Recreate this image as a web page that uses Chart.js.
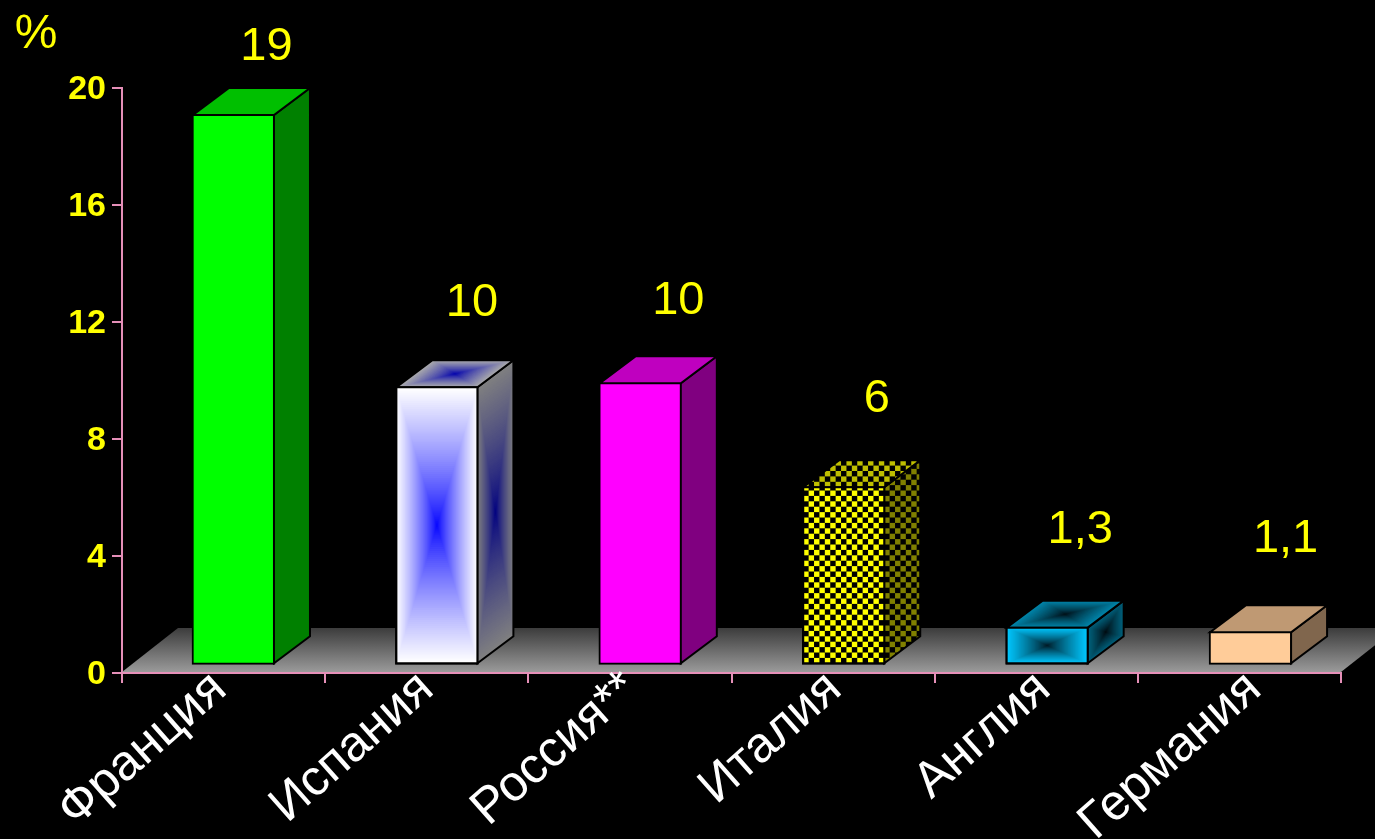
<!DOCTYPE html>
<html><head><meta charset="utf-8">
<style>html,body{margin:0;padding:0;background:#000;overflow:hidden}canvas{display:block}</style>
<script src="https://cdn.jsdelivr.net/npm/chart.js@4"></script>
</head><body><canvas id="c" width="1375" height="839"></canvas>
<script>
const categories = ["Франция","Испания","Россия**","Италия","Англия","Германия"];
const barHeights = [19, 9.6, 9.74, 6.15, 1.3, 1.14];
const valueLabels = ["19","10","10","6","1,3","1,1"];
const yMin = 0, yMax = 20, yStep = 4;

const FONT = '"Liberation Sans", Arial, sans-serif';
const PINK = '#e58fb8', YELLOW = '#ffff00';
const DX = 36, DY = 27;
// visual styling, per bar
const faceStyles = [
  {kind:'solid', color:[0,255,0]},
  {kind:'rect', outer:[255,255,255], inner:[0,0,255]},
  {kind:'solid', color:[255,0,255]},
  {kind:'check', color:[255,255,0]},
  {kind:'rect', outer:[0,200,255], inner:[0,20,30]},
  {kind:'solid', color:[255,204,153]}
];
const labelNudge = [[33,-67],[35,-83],[38,-81],[33,-87],[33,-97],[35,-92]];
const catNudge = [-4,0,1.5,1.5,7.5,15];

const css = (c,s=1)=>`rgb(${c.map(v=>Math.round(v*s)).join(',')})`;
function paintRect(ctx, st, W, H, shade){
  if(st.kind==='solid'){ ctx.fillStyle=css(st.color,shade); ctx.fillRect(0,0,W,H); return; }
  const N=70;
  for(let k=N;k>=1;k--){
    const t=k/N, m=Math.pow(t,0.8);
    const c=st.inner.map((v,i)=>(v+(st.outer[i]-v)*m)*shade);
    ctx.fillStyle=css(c);
    const w=W*t,h=H*t;
    ctx.fillRect((W-w)/2,(H-h)/2,w,h);
  }
}
function paintCheck(ctx, st, x0, y0, x1, y1, shade){
  ctx.fillStyle='#000'; ctx.fillRect(x0,y0,x1-x0,y1-y0);
  ctx.fillStyle=css(st.color,shade);
  const s=5.4;
  for(let i=0;x0+i*s<x1;i++)for(let j=0;y1-j*s>y0-s;j++){ if((i+j)%2===0) ctx.fillRect(x0+i*s,y1-j*s-s,s,s); }
}
function face(ctx, st, o, u, v, W, H, shade){
  ctx.save();
  ctx.beginPath();
  ctx.moveTo(o[0],o[1]);ctx.lineTo(o[0]+u[0],o[1]+u[1]);
  ctx.lineTo(o[0]+u[0]+v[0],o[1]+u[1]+v[1]);ctx.lineTo(o[0]+v[0],o[1]+v[1]);ctx.closePath();
  ctx.save();ctx.clip();
  if(st.kind==='check'){
    const xs=[o[0],o[0]+u[0],o[0]+v[0],o[0]+u[0]+v[0]], ys=[o[1],o[1]+u[1],o[1]+v[1],o[1]+u[1]+v[1]];
    paintCheck(ctx,st,Math.min(...xs),Math.min(...ys),Math.max(...xs),Math.max(...ys),shade);
  } else {
    ctx.transform(u[0]/W,u[1]/W,v[0]/H,v[1]/H,o[0],o[1]);
    paintRect(ctx,st,W,H,shade);
  }
  ctx.restore();
  ctx.strokeStyle='#000';ctx.lineWidth=2;ctx.lineJoin='miter';ctx.stroke();
  ctx.restore();
}
const scene = {
  id:'scene',
  beforeDatasetsDraw(chart){
    const {ctx}=chart, x=chart.scales.x, y=chart.scales.y;
    const x0=x.left, x1=x.right, yb=y.getPixelForValue(yMin)-1, fx=56, fy=44;
    const g=ctx.createLinearGradient(0,yb-fy,0,yb);
    g.addColorStop(0,'#3c3c3c');g.addColorStop(1,'#9a9a9a');
    ctx.save();ctx.fillStyle=g;ctx.beginPath();
    ctx.moveTo(x0,yb);ctx.lineTo(x0+fx,yb-fy);ctx.lineTo(x1+fx,yb-fy);ctx.lineTo(x1,yb);ctx.closePath();ctx.fill();ctx.restore();
  },
  afterDatasetsDraw(chart){
    const {ctx}=chart, bars=chart.getDatasetMeta(0).data;
    bars.forEach((b,i)=>{
      const p=b.getProps(['x','y','base','width'],true);
      const l=p.x-p.width/2+1, r=p.x+p.width/2-1, t=p.y+1, bo=p.base-1;
      const st=faceStyles[i], w=r-l, h=bo-t;
      face(ctx,st,[r,t],[DX,-DY],[0,h],DX,h,0.5);
      face(ctx,st,[l,t],[w,0],[DX,-DY],w,DY,st.kind==='rect'?0.68:0.75);
      if(st.kind!=='solid') face(ctx,st,[l,t],[w,0],[0,h],w,h,1);
      ctx.save();
      ctx.fillStyle=YELLOW;ctx.font=`47px ${FONT}`;ctx.textAlign='center';ctx.textBaseline='middle';
      ctx.fillText(valueLabels[i],p.x+labelNudge[i][0],p.y+labelNudge[i][1]);
      ctx.restore();
    });
    ctx.save();
    ctx.fillStyle=YELLOW;ctx.font=`48px ${FONT}`;ctx.textAlign='center';ctx.textBaseline='middle';
    ctx.fillText('%',36,35);
    ctx.restore();
    // rotated category labels
    const xs=chart.scales.x;
    categories.forEach((c,i)=>{
      ctx.save();
      ctx.translate(xs.getPixelForValue(i)+catNudge[i],682);
      ctx.rotate(-41.5*Math.PI/180);
      ctx.fillStyle='#fff';ctx.font=`50px ${FONT}`;ctx.textAlign='right';ctx.textBaseline='middle';
      ctx.fillText(c,0,0);
      ctx.restore();
    });
  }
};
new Chart(document.getElementById('c'),{
  type:'bar',
  data:{labels:categories,datasets:[{
    data:barHeights.map((v,i)=>({x:i,y:v})),
    xAxisID:'xBar',yAxisID:'yBar',barThickness:83,
    backgroundColor:faceStyles.map(s=>s.kind==='solid'?css(s.color):'#000'),
    borderColor:'#000',borderWidth:2,borderSkipped:false,clip:false
  }]},
  plugins:[scene],
  options:{
    responsive:false,animation:false,devicePixelRatio:1,
    layout:{padding:{top:88,right:34,left:0,bottom:0}},
    plugins:{legend:{display:false},tooltip:{enabled:false},title:{display:false}},
    scales:{
      x:{type:'category',position:'bottom',offset:true,
        grid:{offset:true,drawOnChartArea:false,color:PINK,lineWidth:2,tickLength:10},
        border:{color:PINK,width:2},
        afterFit(s){s.height=839-673;},
        ticks:{display:false,autoSkip:false}},
      y:{type:'linear',position:'left',min:yMin,max:yMax,
        grid:{drawOnChartArea:false,color:PINK,lineWidth:2,tickLength:10},
        border:{color:PINK,width:2},
        afterFit(s){s.width=122;},
        ticks:{stepSize:yStep,color:YELLOW,font:{family:FONT,size:34,weight:'bold'},padding:6,labelOffset:2}},
      xBar:{type:'linear',axis:'x',display:false,offset:false,min:-0.548,max:5.4445,grid:{display:false}},
      yBar:{type:'linear',axis:'y',display:false,min:-0.30,max:19.9,beginAtZero:false,grid:{display:false}}
    }
  }
});
</script></body></html>
